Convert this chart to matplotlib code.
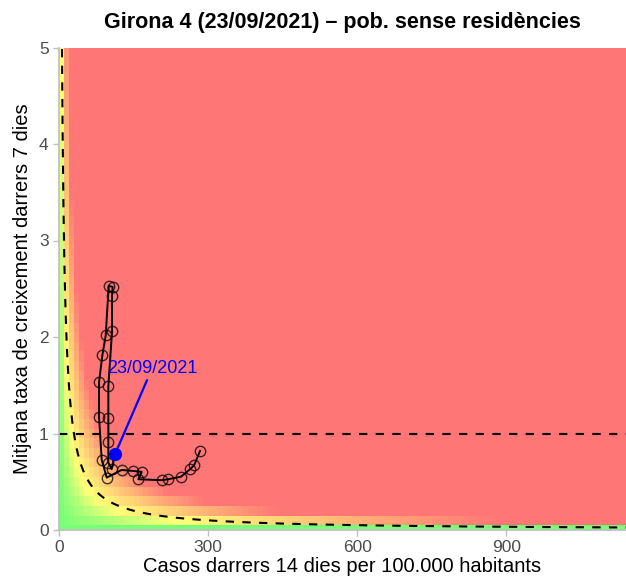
import numpy as np
import matplotlib
matplotlib.use('Agg')
import matplotlib.pyplot as plt
from matplotlib.colors import LinearSegmentedColormap, Normalize

plt.rcParams['font.family'] = ['Liberation Sans', 'DejaVu Sans']

# trajectory: 14-day cases per 100k vs mean 7-day growth rate
casos = [283.9, 271.8, 263.7, 245.6, 220.0, 206.7, 159.6, 166.5, 149.6, 126.0,
         96.0, 86.0, 80.5, 80.5, 87.2, 94.0, 100.0, 108.0, 106.7, 106.7,
         99.3, 99.3, 99.3, 99.3, 106.0, 112.7]
taxa = [0.82, 0.67, 0.63, 0.553, 0.526, 0.516, 0.526, 0.602, 0.612, 0.622,
        0.543, 0.726, 1.175, 1.53, 1.81, 2.016, 2.53, 2.52, 2.42, 2.057,
        1.49, 1.165, 0.916, 0.698, 0.63, 0.785]
ultima_data = '23/09/2021'
titol = 'Girona 4 (23/09/2021) – pob. sense residències'
epg_llindar = 30

x_max = 1141
y_max = 5

# background risk grid (cases * growth)
x_edges = np.arange(0, 1160, 10)
y_edges = np.arange(-0.05, 5.1, 0.1)
x_cent = (x_edges[:-1] + x_edges[1:]) / 2
y_cent = (y_edges[:-1] + y_edges[1:]) / 2
risc = np.outer(y_cent, x_cent)

cmap = LinearSegmentedColormap.from_list(
    'risc', [(0, '#77FF77'), (0.27, '#FFFF77'), (1, '#FF7676')])

fig = plt.figure(figsize=(6.26, 5.8), dpi=100)
ax = fig.add_axes([59 / 626, 50 / 580, 567 / 626, 482.5 / 580])

ax.pcolormesh(x_edges, y_edges, risc, cmap=cmap,
              norm=Normalize(0, 88, clip=True), shading='flat', zorder=0)

# EPG threshold curve and growth = 1 line
xc = np.linspace(1, x_max, 2000)
ax.plot(xc, epg_llindar / xc, color='black', lw=1.5, linestyle=(0, (4, 4)), zorder=2)
ax.axhline(1, color='black', lw=1.5, linestyle=(0, (4, 4)), zorder=2)

ax.plot(casos, taxa, color='black', lw=1.4, zorder=3)
ax.plot(casos, taxa, 'o', markersize=7.5, markerfacecolor='none',
        markeredgecolor='black', markeredgewidth=1.0, alpha=0.75, zorder=4)

ax.plot(casos[-1], taxa[-1], 'o', color='blue', markersize=8.5, zorder=5)
ax.annotate(ultima_data, xy=(casos[-1], taxa[-1]), xytext=(187, 1.67),
            color='blue', fontsize=13, ha='center', va='center',
            arrowprops=dict(arrowstyle='-', color='blue', lw=1.6,
                            shrinkA=0, shrinkB=0), zorder=5)

ax.set_xlim(0, x_max)
ax.set_ylim(0, y_max)
ax.set_xticks([0, 300, 600, 900])
ax.set_yticks([0, 1, 2, 3, 4, 5])
for s in ['top', 'right']:
    ax.spines[s].set_visible(False)
for s in ['left', 'bottom']:
    ax.spines[s].set_color('#BEBEBE')
    ax.spines[s].set_linewidth(1.2)
ax.tick_params(colors='#BEBEBE', labelcolor='#4D4D4D', labelsize=12.5,
               length=4, width=1.0)

ax.set_xlabel('Casos darrers 14 dies per 100.000 habitants', fontsize=14.5, labelpad=1)
ax.set_ylabel('Mitjana taxa de creixement darrers 7 dies', fontsize=14.5, labelpad=5)
ax.set_title(titol, fontsize=15.5, fontweight='bold', pad=14)

fig.savefig('out.png', dpi=100)
